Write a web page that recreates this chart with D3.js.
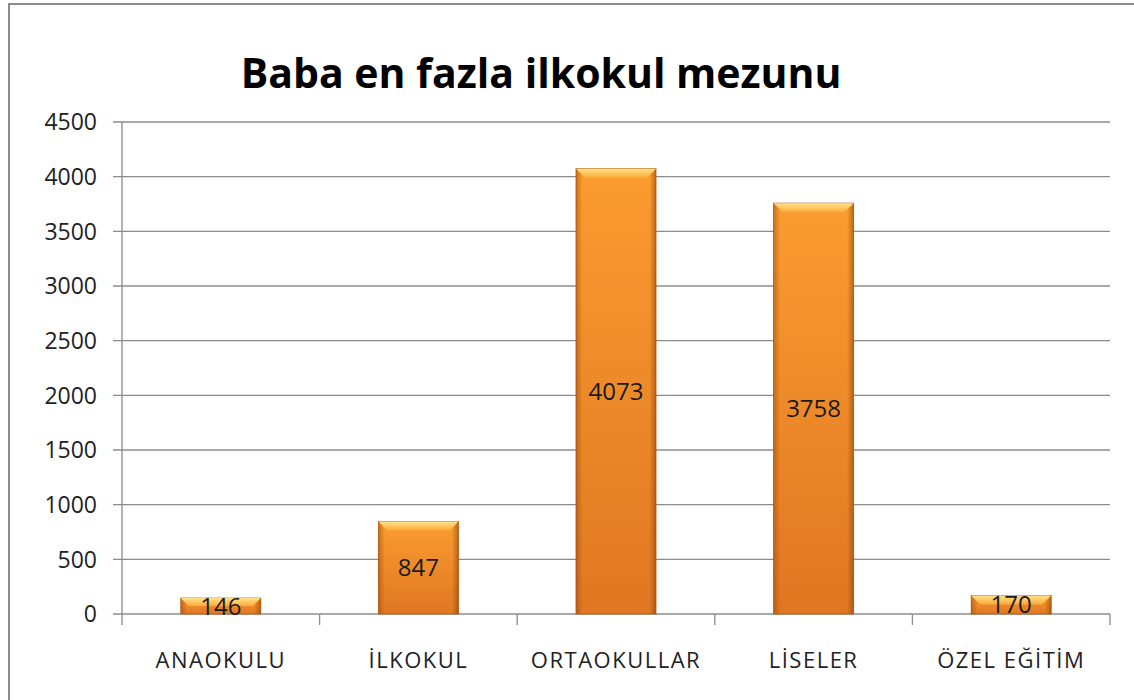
<!DOCTYPE html>
<html>
<head>
<meta charset="utf-8">
<script src="https://cdn.jsdelivr.net/npm/d3@7"></script>
<style>
  body { margin: 0; background: #fff; }
  text { font-family: "Open Sans", "DejaVu Sans", sans-serif; }
</style>
</head>
<body>
<div id="chart"></div>
<script>
// chart data
const categories = ["ANAOKULU", "İLKOKUL", "ORTAOKULLAR", "LİSELER", "ÖZEL EĞİTİM"];
const values = [146, 847, 4073, 3758, 170];
const yTicks = [0, 500, 1000, 1500, 2000, 2500, 3000, 3500, 4000, 4500];
const title = "Baba en fazla ilkokul mezunu";

const svg = d3.select("#chart").append("svg")
  .attr("width", 1134)
  .attr("height", 700);

const margin = { top: 122, right: 24, bottom: 86, left: 122 };
const width = 1134 - margin.left - margin.right;
const height = 700 - margin.top - margin.bottom;

// outer frame (only top and left visible)
svg.append("path")
  .attr("d", "M9,700 V4 H1134")
  .attr("fill", "none")
  .attr("stroke", "#8c8c8c")
  .attr("stroke-width", 2);

// gradients for the bevelled bars
const defs = svg.append("defs");
const vg = defs.append("linearGradient").attr("id", "barV").attr("x1", 0).attr("y1", 0).attr("x2", 0).attr("y2", 1);
vg.append("stop").attr("offset", "0%").attr("stop-color", "#fb9c30");
vg.append("stop").attr("offset", "100%").attr("stop-color", "#df7722");
const hg = defs.append("linearGradient").attr("id", "barH").attr("x1", 0).attr("y1", 0).attr("x2", 1).attr("y2", 0);
hg.append("stop").attr("offset", "0%").attr("stop-color", "#8a3d05").attr("stop-opacity", 0.45);
hg.append("stop").attr("offset", "8%").attr("stop-color", "#8a3d05").attr("stop-opacity", 0);
hg.append("stop").attr("offset", "92%").attr("stop-color", "#8a3d05").attr("stop-opacity", 0);
hg.append("stop").attr("offset", "100%").attr("stop-color", "#8a3d05").attr("stop-opacity", 0.55);
const tg = defs.append("linearGradient").attr("id", "barTop").attr("x1", 0).attr("y1", 0).attr("x2", 0).attr("y2", 1);
tg.append("stop").attr("offset", "0%").attr("stop-color", "#ffe48a");
tg.append("stop").attr("offset", "100%").attr("stop-color", "#fcaa3a");

const chart = svg.append("g").attr("transform", `translate(${margin.left},${margin.top})`);

const x = d3.scaleBand().domain(categories).range([0, width]).paddingInner(0.595).paddingOuter(0.2975);
const y = d3.scaleLinear().domain([0, 4500]).range([height, 0]);

// gridlines
chart.append("g")
  .selectAll("line")
  .data(yTicks)
  .join("line")
  .attr("x1", -9)
  .attr("x2", width)
  .attr("y1", d => y(d))
  .attr("y2", d => y(d))
  .attr("stroke", "#8c8c8c")
  .attr("stroke-width", 1.3);

// y axis line
chart.append("line")
  .attr("x1", 0).attr("x2", 0)
  .attr("y1", 0).attr("y2", height + 11)
  .attr("stroke", "#8c8c8c")
  .attr("stroke-width", 1.3);

// category ticks
const step = width / categories.length;
chart.append("g")
  .selectAll("line")
  .data(d3.range(1, categories.length + 1))
  .join("line")
  .attr("x1", d => d * step).attr("x2", d => d * step)
  .attr("y1", height).attr("y2", height + 11)
  .attr("stroke", "#8c8c8c")
  .attr("stroke-width", 1.3);

// y labels
chart.append("g")
  .selectAll("text")
  .data(yTicks)
  .join("text")
  .attr("x", -25)
  .attr("y", d => y(d))
  .attr("dy", "0.36em")
  .attr("text-anchor", "end")
  .attr("font-size", 23)
  .attr("fill", "#222")
  .text(d => d);

// x labels
chart.append("g")
  .selectAll("text")
  .data(categories)
  .join("text")
  .attr("x", d => x(d) + x.bandwidth() / 2)
  .attr("y", height + 54)
  .attr("text-anchor", "middle")
  .attr("font-size", 22)
  .attr("letter-spacing", 1.5)
  .attr("fill", "#222")
  .text(d => d);

// bars
const bars = chart.append("g")
  .selectAll("g")
  .data(categories.map((c, i) => ({ cat: c, val: values[i] })))
  .join("g");

bars.append("rect")
  .attr("x", d => x(d.cat))
  .attr("y", d => y(d.val))
  .attr("width", x.bandwidth())
  .attr("height", d => height - y(d.val))
  .attr("fill", "url(#barV)")
  .attr("stroke", "#b45f14")
  .attr("stroke-width", 0.8);

bars.append("rect")
  .attr("x", d => x(d.cat))
  .attr("y", d => y(d.val))
  .attr("width", x.bandwidth())
  .attr("height", d => height - y(d.val))
  .attr("fill", "url(#barH)");

// top bevel
bars.append("path")
  .attr("d", d => {
    const x0 = x(d.cat), x1 = x0 + x.bandwidth(), yt = y(d.val);
    const b = Math.min(9, (height - yt) / 2);
    return `M${x0},${yt} H${x1} L${x1 - b},${yt + b} H${x0 + b} Z`;
  })
  .attr("fill", "url(#barTop)");

// value labels
bars.append("text")
  .attr("x", d => x(d.cat) + x.bandwidth() / 2)
  .attr("y", d => (y(d.val) + height) / 2)
  .attr("dy", "0.36em")
  .attr("text-anchor", "middle")
  .attr("font-size", 24)
  .attr("fill", "#1a1a1a")
  .text(d => d.val);

// title
svg.append("text")
  .attr("x", 541)
  .attr("y", 88)
  .attr("text-anchor", "middle")
  .attr("font-size", 41)
  .attr("font-weight", "bold")
  .attr("fill", "#000")
  .text(title);
</script>
</body>
</html>
